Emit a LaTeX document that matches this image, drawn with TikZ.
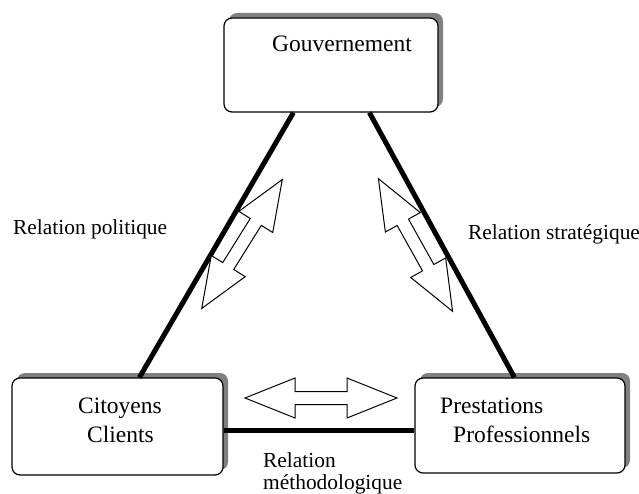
\documentclass[tikz,border=0pt]{standalone}
\usepackage{fontspec}
\setmainfont{Liberation Serif}
\usetikzlibrary{shadows,calc}
\tikzset{
  box/.style={draw=black, line width=1.2pt, rounded corners=8pt, fill=white, inner sep=0pt,
    general shadow={shadow xshift=5pt, shadow yshift=5pt, fill=black!50, rounded corners=8pt}},
  boxtext/.style={font=\fontsize{23.5}{28}\selectfont, anchor=base west, inner sep=0pt},
  reltext/.style={font=\fontsize{21.4}{26}\selectfont, anchor=base west, inner sep=0pt},
  link/.style={line width=5pt},
  hollow/.style={draw=black, line width=1pt, fill=white, line join=miter}
}
\newcommand{\dblarrow}{(-76,0) -- (-26,20) -- (-26,6.5) -- (26,6.5) -- (26,20) -- (76,0) -- (26,-20) -- (26,-6.5) -- (-26,-6.5) -- (-26,-20) -- cycle}
\begin{document}
\begin{tikzpicture}[x=1pt,y=-1pt]
\useasboundingbox (0,0) rectangle (639,494);
% boxes
\node[box, minimum width=214pt, minimum height=94pt] (gouv) at (331,65) {};
\node[box, minimum width=211pt, minimum height=97pt] (cit) at (117.5,426.5) {};
\node[box, minimum width=210pt, minimum height=95pt] (pres) at (520,425.5) {};
% connectors
\draw[link] ($(gouv.south west)+(70,0)$) -- ($(cit.north west)+(128,0)$);
\draw[link] ($(gouv.south west)+(146,0)$) -- ($(pres.north west)+(100,0)$);
\draw[link] ($(cit.east)+(0,4)$) -- ($(pres.west)+(0,5)$);
% box texts
\node[boxtext] (tgouv) at (272,52) {Gouvernement};
\node[boxtext] (tcit1) at (78,413) {Citoyens};
\node[boxtext] (tcit2) at (87,442) {Clients};
\node[boxtext] (tpres1) at (440,413) {Prestations};
\node[boxtext] (tpres2) at (453,442) {Professionnels};
% relation labels
\node[reltext] (lpol) at (13,235) {Relation politique};
\node[reltext] (lstr) at (468,240) {Relation stratégique};
\node[reltext] (lmet1) at (263,467) {Relation};
\node[reltext] (lmet2) at (263,489) {méthodologique};
% hollow double arrows
\begin{scope}[shift={(242,244)}, rotate=58]
  \draw[hollow] \dblarrow;
\end{scope}
\begin{scope}[shift={(415.5,245)}, rotate=-60.8]
  \draw[hollow] \dblarrow;
\end{scope}
\begin{scope}[shift={(321,398)}]
  \draw[hollow] \dblarrow;
\end{scope}
\end{tikzpicture}
\end{document}
